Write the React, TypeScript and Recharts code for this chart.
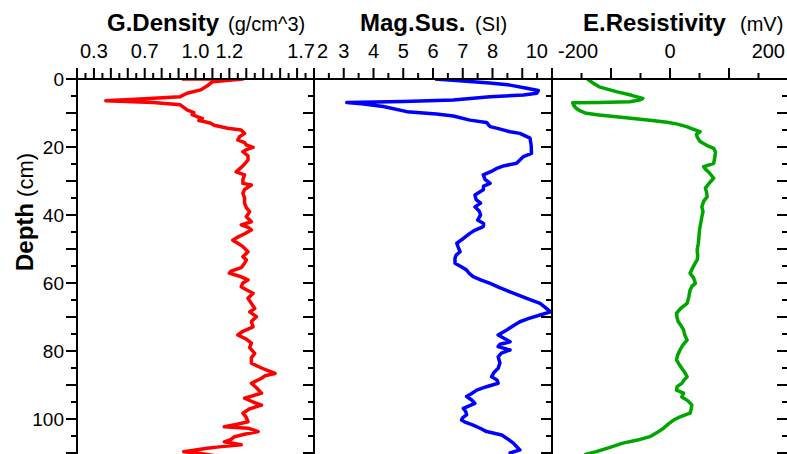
import { LineChart, Line, XAxis, YAxis } from "recharts";

const FONT = "'Liberation Sans', Arial, Helvetica, sans-serif";
const INK = "#000";

// depth axis (cm), shared by the three panels
const depthDomain = [0, 120];
const depthTicks = [0, 5, 10, 15, 20, 25, 30, 35, 40, 45, 50, 55, 60, 65, 70, 75, 80, 85, 90, 95, 100, 105, 110, 115, 120];
const depthLabels = [0, 20, 40, 60, 80, 100];

// top axes
const densityLabels = [0.3, 0.7, 1.0, 1.2, 1.7];
const magLabels = [2, 3, 4, 5, 6, 7, 8, 10];
const resLabels = [-200, 0, 200];

// G.Density (g/cm^3)
const densityDepth = [
  0, 0, 0.8, 2, 3.2, 4.2, 5.2, 5.8, 6.4, 6.9,
  7.6, 9.1, 9.9, 10.5, 11.1, 11.6, 12.2, 12.5, 13.0, 13.6,
  14.5, 15.0, 16, 17, 17.9, 18.7, 19.4, 20.1, 20.8, 21.4,
  22.6, 23.8, 25, 26, 27.3, 28.2, 29.5, 30.7, 31.2, 32.5,
  33.6, 35, 36.6, 37.8, 39, 40.5, 42, 42.9, 43.6, 44.4,
  45.5, 46.5, 47.4, 48.3, 49.3, 50.8, 52.3, 53.2, 54.2, 55.5,
  56.5, 57.1, 58, 59.1, 60, 61.1, 62, 63, 64.5, 66,
  67.5, 68.5, 69.9, 71.3, 72.9, 74.2, 75.3, 76.5, 77.7, 79,
  80.7, 82, 83.6, 85, 86.6, 87.3, 88, 89.5, 90.8, 92.4,
  93.9, 95, 95.9, 97, 98.3, 99.5, 100.8, 101.6, 102.3, 102.7,
  103.7, 104.5, 105.2, 106, 106.7, 107.6, 108.2, 108.6, 109.2, 109.6,
  110.2, 111,
];
const densityValue = [
  0.92, 1.28, 1.10, 1.07, 1.03, 0.95, 0.91, 0.70, 0.47, 0.75,
  0.91, 0.95, 0.99, 0.98, 1.01, 1.04, 1.02, 1.05, 1.09, 1.11,
  1.19, 1.27, 1.29, 1.26, 1.25, 1.29, 1.30, 1.34, 1.30, 1.28,
  1.31, 1.31, 1.29, 1.27, 1.24, 1.29, 1.28, 1.28, 1.33, 1.29,
  1.28, 1.29, 1.29, 1.30, 1.32, 1.30, 1.33, 1.27, 1.31, 1.33,
  1.29, 1.25, 1.22, 1.25, 1.28, 1.31, 1.28, 1.30, 1.29, 1.27,
  1.21, 1.20, 1.26, 1.31, 1.28, 1.27, 1.30, 1.34, 1.31, 1.33,
  1.35, 1.32, 1.36, 1.33, 1.34, 1.28, 1.25, 1.30, 1.33, 1.32,
  1.35, 1.33, 1.33, 1.39, 1.47, 1.41, 1.39, 1.33, 1.36, 1.39,
  1.29, 1.34, 1.39, 1.32, 1.28, 1.30, 1.31, 1.24, 1.17, 1.31,
  1.37, 1.29, 1.23, 1.21, 1.17, 1.27, 1.14, 1.07, 0.99, 0.93,
  1.04, 1.14,
];

// Mag.Sus. (SI)
const magDepth = [
  0, 0.5, 1.2, 1.8, 2.7, 3.4, 4.2, 4.7, 5.2, 6.2,
  6.6, 6.9, 7.3, 8.1, 9.6, 10.3, 10.9, 12.1, 12.8, 14.0,
  14.6, 15.5, 16, 17.4, 19.5, 21.9, 22.8, 24.8, 25.5, 26.3,
  27, 28.2, 29.5, 30.7, 31.5, 32.6, 34.1, 35.5, 36.5, 37.6,
  38.8, 40, 41.5, 42.5, 43.4, 44.5, 45.4, 46.9, 48.3, 49.5,
  50.8, 51.8, 52.7, 54.2, 55.2, 56.2, 57, 58.1, 59.1, 60.1,
  61.2, 62.6, 63.5, 64.5, 66, 67, 67.9, 68.5, 69.4, 70.5,
  71.4, 72.6, 73.8, 75.3, 76.3, 77.3, 78.0, 78.7, 79.7, 80.6,
  81.7, 83.5, 85.1, 86.3, 87.6, 88.5, 89.5, 90.5, 91.5, 92.5,
  93.4, 94.4, 95.4, 96.9, 97.8, 98.8, 99.6, 100.3, 101, 101.8,
  102.8, 103.7, 104.7, 105.8, 107.1, 108, 109.1, 110, 111,
];
const magValue = [
  6.07, 6.9, 7.9, 8.59, 9.15, 9.54, 9.49, 9.04, 7.92, 6.68,
  5.0, 3.1, 3.6, 4.33, 5.12, 6.12, 6.68, 7.24, 7.8, 7.92,
  8.2, 8.59, 8.92, 9.26, 9.3, 9.31, 9.04, 8.81, 8.4, 8.14,
  8.0, 7.69, 7.75, 7.92, 7.7, 7.69, 7.41, 7.45, 7.6, 7.41,
  7.55, 7.6, 7.5, 7.7, 7.69, 7.4, 7.24, 7.02, 6.8, 6.85,
  6.91, 6.78, 6.74, 6.74, 6.95, 7.13, 7.2, 7.35, 7.6, 7.92,
  8.2, 8.59, 8.85, 9.15, 9.6, 9.75, 9.87, 9.95, 9.6, 9.2,
  8.92, 8.7, 8.48, 8.19, 8.4, 8.59, 8.25, 8.19, 8.59, 8.3,
  8.19, 8.25, 8.19, 8.05, 7.97, 8.15, 8.19, 7.8, 7.47, 7.3,
  7.13, 7.3, 7.41, 7.02, 7.1, 7.13, 7.0, 6.96, 7.1, 7.35,
  7.6, 7.8, 8.31, 8.5, 8.7, 8.8, 8.92, 8.59, 8.7,
];

// E.Resistivity (mV)
const resDepth = [
  0, 1, 2.3, 3.7, 4.8, 5.7, 6.2, 6.7, 6.9, 7.0,
  7.8, 8.6, 9.4, 10.1, 10.6, 11.1, 12.1, 12.7, 13.2, 14.0,
  14.8, 15.5, 16.2, 17, 18.4, 19.5, 20.4, 21.4, 23, 24.8,
  25.8, 26.5, 27.3, 28.3, 29.2, 30.5, 32.1, 33.3, 34.6, 36,
  37.6, 39, 40.5, 42.5, 44.4, 46.5, 48.3, 50.3, 52, 53.2,
  55, 57.1, 58.5, 60.1, 61, 62.1, 64, 66, 67.5, 68.9,
  70.2, 71.4, 72.6, 73.8, 75.3, 76.8, 78.2, 79.7, 81.2, 82.6,
  83.8, 85.1, 86.3, 87.6, 88.5, 89.5, 90.5, 91.5, 92.4, 93.5,
  94.6, 95.9, 97, 98.3, 99.3, 100.3, 101.5, 102.7, 104, 105.2,
  106.2, 107.1, 108.4, 109.6, 110.5,
];
const resValue = [
  -140, -132, -120, -91, -65, -46, -52, -68, -120, -165,
  -163, -159, -152, -142, -120, -91, -34, -5, 11, 28,
  40, 51, 45, 46, 51, 62, 74, 77, 76, 74,
  57, 60, 65, 70, 74, 67, 60, 62, 63, 57,
  54, 56, 54, 52, 50, 49, 48, 46, 47, 46,
  40, 34, 40, 43, 37, 34, 32, 29, 18, 11,
  12, 14, 19, 23, 25, 29, 22, 17, 13, 11,
  15, 20, 25, 29, 24, 20, 12, 11, 23, 20,
  30, 37, 36, 34, 18, 6, -3, -11, -22, -34,
  -55, -80, -103, -125, -145,
];

const rows = (depth: number[], value: number[]) =>
  depth.map((d, i) => ({ depth: d, value: value[i] }));

const steps = (from: number, to: number, step: number) => {
  const out: number[] = [];
  const n = Math.round((to - from) / step);
  for (let i = 0; i <= n; i++) out.push(Math.round((from + i * step) * 1000) / 1000);
  return out;
};

const near = (a: number, b: number) => Math.abs(a - b) < 1e-6;

function TopTick(props: any) {
  const { x, y, payload, major, labels, fmt, edge } = props;
  const v = payload.value;
  const isMajor = near(v / major, Math.round(v / major));
  const len = isMajor ? 11 : 6;
  const li = labels.findIndex((l: number) => near(l, v));
  let anchor = "middle";
  let dx = 0;
  if (li === 0) {
    anchor = "start";
    dx = edge[0];
  } else if (li === labels.length - 1) {
    anchor = "end";
    dx = edge[1];
  }
  return (
    <g>
      <line x1={x} x2={x} y1={y} y2={y - len} stroke={INK} strokeWidth={2} />
      {li >= 0 && (
        <text x={x + dx} y={y - 21} textAnchor={anchor} fontSize={20} fill={INK}>
          {fmt(v)}
        </text>
      )}
    </g>
  );
}

function DepthTick(props: any) {
  const { x, y, payload, side } = props;
  const v = payload.value;
  const len = v % 10 === 0 ? 11 : 6;
  const labeled = side === "left" && depthLabels.includes(v);
  return (
    <g>
      <line x1={x - len} x2={x} y1={y} y2={y} stroke={INK} strokeWidth={2} />
      {labeled && (
        <text x={x - 13} y={y} dy="0.35em" textAnchor="end" fontSize={19} fill={INK}>
          {v}
        </text>
      )}
    </g>
  );
}

type PanelProps = {
  left: number;
  plotWidth: number;
  data: { depth: number; value: number }[];
  color: string;
  domain: number[];
  ticks: number[];
  major: number;
  labels: number[];
  fmt: (v: number) => string;
  edge: number[];
  depthAxis?: boolean;
};

function Panel({ left, plotWidth, data, color, domain, ticks, major, labels, fmt, edge, depthAxis }: PanelProps) {
  const leftW = depthAxis ? 77 : 0;
  return (
    <div style={{ position: "absolute", left: left - leftW, top: 0 }}>
      <LineChart
        layout="vertical"
        width={leftW + plotWidth + 1}
        height={500}
        data={data}
        margin={{ top: 39, right: 0, bottom: 13, left: 0 }}
      >
        <XAxis
          type="number"
          orientation="top"
          domain={domain}
          allowDataOverflow
          ticks={ticks}
          interval={0}
          height={40}
          tickSize={0}
          tickMargin={0}
          axisLine={{ stroke: INK, strokeWidth: 2 }}
          tickLine={false}
          tick={(p: any) => <TopTick {...p} major={major} labels={labels} fmt={fmt} edge={edge} />}
        />
        <YAxis
          yAxisId="l"
          type="number"
          dataKey="depth"
          domain={depthDomain}
          allowDataOverflow
          ticks={depthTicks}
          interval={0}
          width={leftW}
          hide={!depthAxis}
          tickSize={0}
          tickMargin={0}
          axisLine={{ stroke: INK, strokeWidth: 2 }}
          tickLine={false}
          tick={(p: any) => <DepthTick {...p} side="left" />}
        />
        <YAxis
          yAxisId="r"
          orientation="right"
          type="number"
          dataKey="depth"
          domain={depthDomain}
          allowDataOverflow
          ticks={depthTicks}
          interval={0}
          width={1}
          tickSize={0}
          tickMargin={0}
          axisLine={{ stroke: INK, strokeWidth: 2 }}
          tickLine={false}
          tick={(p: any) => <DepthTick {...p} side="right" />}
        />
        <Line
          yAxisId="l"
          dataKey="value"
          stroke={color}
          strokeWidth={3.5}
          strokeLinejoin="round"
          dot={false}
          isAnimationActive={false}
        />
      </LineChart>
    </div>
  );
}

export default function App() {
  return (
    <div
      style={{
        position: "absolute",
        left: 0,
        top: 0,
        width: 787,
        height: 454,
        overflow: "hidden",
        background: "#fff",
        fontFamily: FONT,
      }}
    >
      <Panel
        left={77}
        plotWidth={237}
        data={rows(densityDepth, densityValue)}
        color="#ff0000"
        domain={[0.3, 1.7]}
        ticks={steps(0.3, 1.7, 0.05)}
        major={0.1}
        labels={densityLabels}
        fmt={(v) => v.toFixed(1)}
        edge={[3, 1]}
        depthAxis
      />
      <Panel
        left={314}
        plotWidth={238}
        data={rows(magDepth, magValue)}
        color="#0000ff"
        domain={[2, 10]}
        ticks={steps(2, 10, 0.5)}
        major={1}
        labels={magLabels}
        fmt={(v) => String(v)}
        edge={[3, -4]}
      />
      <Panel
        left={552}
        plotWidth={236}
        data={rows(resDepth, resValue)}
        color="#00a600"
        domain={[-200, 200]}
        ticks={steps(-200, 200, 50)}
        major={100}
        labels={resLabels}
        fmt={(v) => String(v)}
        edge={[6, -3]}
      />
      <svg
        width={787}
        height={454}
        style={{ position: "absolute", left: 0, top: 0, pointerEvents: "none" }}
      >
        <text y={31} fill={INK}>
          <tspan x={107} fontWeight="bold" fontSize={24}>G.Density</tspan>
          <tspan x={228} fontSize={20}>(g/cm^3)</tspan>
        </text>
        <text y={31} fill={INK}>
          <tspan x={360} fontWeight="bold" fontSize={24}>Mag.Sus.</tspan>
          <tspan x={475} fontSize={20}>(SI)</tspan>
        </text>
        <text y={31} fill={INK}>
          <tspan x={583} fontWeight="bold" fontSize={24}>E.Resistivity</tspan>
          <tspan x={740} fontSize={20}>(mV)</tspan>
        </text>
        <text x={33} y={212} transform="rotate(-90 33 212)" textAnchor="middle" fill={INK}>
          <tspan fontWeight="bold" fontSize={24}>Depth</tspan>
          <tspan fontSize={22}> (cm)</tspan>
        </text>
      </svg>
    </div>
  );
}
